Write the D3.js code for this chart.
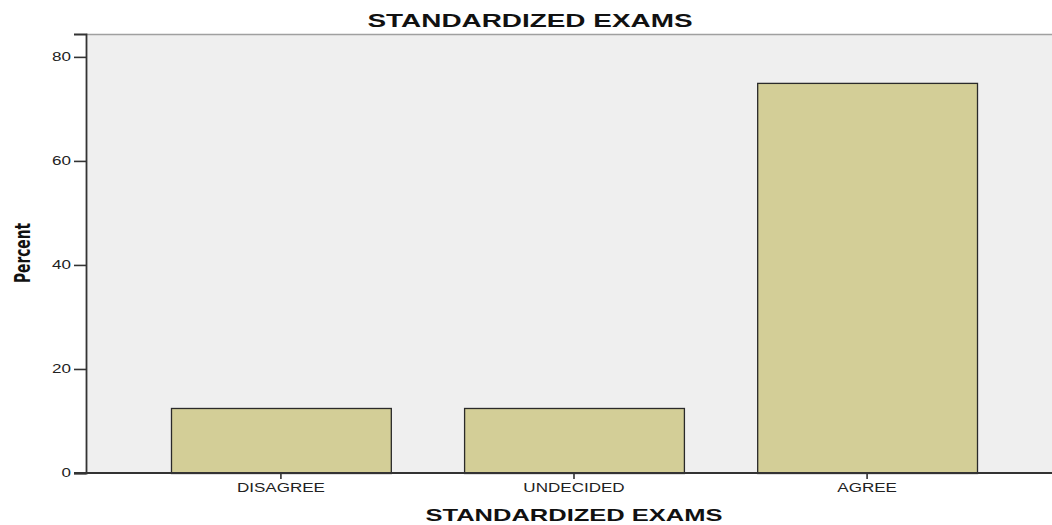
<!DOCTYPE html>
<html>
<head>
<meta charset="utf-8">
<script src="https://cdn.jsdelivr.net/npm/d3@7"></script>
<style>
  body { margin: 0; background: #fff; }
  svg { display: block; }
</style>
</head>
<body>
<svg width="1052" height="525"></svg>
<script>
const categories = ["DISAGREE", "UNDECIDED", "AGREE"];
const percents = [12.5, 12.5, 75];
const yTicks = [0, 20, 40, 60, 80];

const svg = d3.select("svg");

const plotLeft = 86, plotTop = 34, plotBottom = 473, plotRight = 1062;
const sans = "'Liberation Sans', Arial, sans-serif";

// the original text is drawn wide, so stretch each label horizontally
function stretch(sel, k) {
  sel.each(function () {
    const w = this.getComputedTextLength();
    d3.select(this)
      .attr("textLength", w * k)
      .attr("lengthAdjust", "spacingAndGlyphs");
  });
}

const x = d3.scaleBand()
  .domain(categories)
  .range([plotLeft, plotRight])
  .paddingInner(0.25)
  .paddingOuter(0.29);

const y = d3.scaleLinear().domain([0, 84.4]).range([plotBottom, plotTop]);

// plot background
svg.append("rect")
  .attr("x", plotLeft).attr("y", plotTop)
  .attr("width", 1052 - plotLeft).attr("height", plotBottom - plotTop)
  .attr("fill", "#efefef");

svg.append("line")
  .attr("x1", plotLeft).attr("x2", 1052)
  .attr("y1", plotTop + 0.5).attr("y2", plotTop + 0.5)
  .attr("stroke", "#a0a0a0")
  .attr("stroke-width", 1.6);

// bars
svg.append("g")
  .selectAll("rect")
  .data(categories)
  .join("rect")
  .attr("x", (d) => x(d) + 0.5)
  .attr("y", (d, i) => y(percents[i]) + 0.5)
  .attr("width", x.bandwidth())
  .attr("height", (d, i) => plotBottom - y(percents[i]))
  .attr("fill", "#d3ce97")
  .attr("stroke", "#2a2a2a")
  .attr("stroke-width", 1.3);

// axes
const yAxis = svg.append("g")
  .attr("transform", `translate(${plotLeft},0)`)
  .call(d3.axisLeft(y).tickValues(yTicks).tickSize(12).tickPadding(3));
yAxis.select(".domain").attr("stroke", "#333").attr("stroke-width", 1.8);

const xAxis = svg.append("g")
  .attr("transform", `translate(0,${plotBottom})`)
  .call(d3.axisBottom(x).tickSize(6).tickPadding(4));
xAxis.select(".domain").remove();
svg.append("line")
  .attr("x1", plotLeft - 12).attr("x2", 1052)
  .attr("y1", plotBottom).attr("y2", plotBottom)
  .attr("stroke", "#333").attr("stroke-width", 1.8);

svg.selectAll(".tick line").attr("stroke", "#333").attr("stroke-width", 1.6);
svg.selectAll(".tick text")
  .attr("fill", "#222")
  .style("font-family", sans)
  .style("font-size", "12px")
  .call(stretch, 1.42);

// titles
svg.append("text")
  .attr("x", 530).attr("y", 27)
  .attr("text-anchor", "middle")
  .style("font-family", sans)
  .style("font-weight", "bold")
  .style("font-size", "18px")
  .attr("fill", "#111")
  .text("STANDARDIZED EXAMS")
  .call(stretch, 1.55);

svg.append("text")
  .attr("x", 574).attr("y", 521)
  .attr("text-anchor", "middle")
  .style("font-family", sans)
  .style("font-weight", "bold")
  .style("font-size", "17px")
  .attr("fill", "#111")
  .text("STANDARDIZED EXAMS")
  .call(stretch, 1.5);

svg.append("text")
  .attr("transform", "translate(30,253) rotate(-90)")
  .attr("text-anchor", "middle")
  .style("font-family", "'Liberation Sans Narrow', 'DejaVu Sans Condensed', sans-serif")
  .style("font-weight", "bold")
  .style("font-size", "21px")
  .attr("fill", "#111")
  .attr("textLength", 60)
  .attr("lengthAdjust", "spacingAndGlyphs")
  .text("Percent");
</script>
</body>
</html>
